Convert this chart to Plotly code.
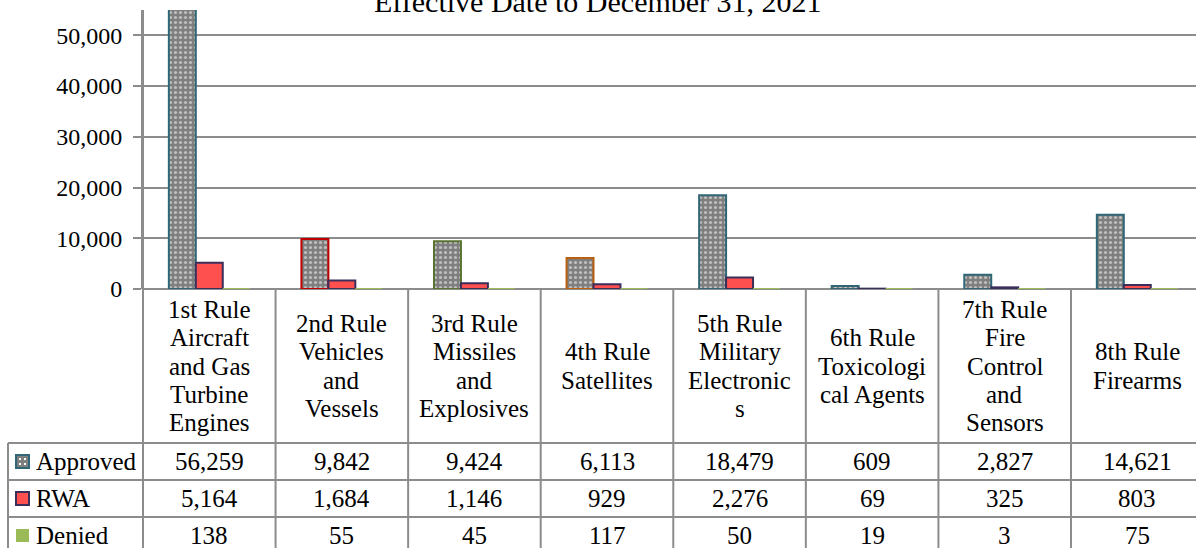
import plotly.graph_objects as go

# ---------------- data ----------------
categories = ["1st Rule", "2nd Rule", "3rd Rule", "4th Rule",
              "5th Rule", "6th Rule", "7th Rule", "8th Rule"]
category_lines = [
    ["1st Rule", "Aircraft", "and Gas", "Turbine", "Engines"],
    ["2nd Rule", "Vehicles", "and", "Vessels"],
    ["3rd Rule", "Missiles", "and", "Explosives"],
    ["4th Rule", "Satellites"],
    ["5th Rule", "Military", "Electronic", "s"],
    ["6th Rule", "Toxicologi", "cal Agents"],
    ["7th Rule", "Fire", "Control", "and", "Sensors"],
    ["8th Rule", "Firearms"],
]
approved = [56259, 9842, 9424, 6113, 18479, 609, 2827, 14621]
rwa = [5164, 1684, 1146, 929, 2276, 69, 325, 803]
denied = [138, 55, 45, 117, 50, 19, 3, 75]
series_names = ["Approved", "RWA", "Denied"]
title_text = "Effective Date to December 31, 2021"

# ---------------- style ----------------
W, H = 1196, 548
L, T, B = 143, 10, 289          # plot-area pixel edges
FONT = "Liberation Serif, Times New Roman, serif"
GRID = "#8C8C8C"
TEAL = "#2F6777"
approved_outline = [TEAL, "#C00000", "#5A7330", "#B8600E", TEAL, TEAL, TEAL, TEAL]
RWA_FILL, RWA_LINE = "#FF5050", "#3B2E5A"
DEN_FILL = "#9BBB59"
TBL_FS = 25

def px(x):
    return (x - L) / (W - L)

def py(y):
    return (B - y) / (B - T)

fig = go.Figure()
fig.add_trace(go.Bar(
    x=categories, y=approved, name=series_names[0],
    marker=dict(color="#7F7F7F",
                line=dict(color=approved_outline, width=2),
                pattern=dict(shape=".", fgcolor="white", size=5, solidity=0.3,
                             fillmode="overlay")),
))
fig.add_trace(go.Bar(
    x=categories, y=rwa, name=series_names[1],
    marker=dict(color=RWA_FILL, line=dict(color=RWA_LINE, width=2)),
))
fig.add_trace(go.Bar(
    x=categories, y=denied, name=series_names[2],
    marker=dict(color=DEN_FILL, line=dict(width=0)),
))

cat_w = 132.57
x_hi = -0.5 + (W - L) / cat_w

fig.update_layout(
    width=W, height=H,
    margin=dict(l=L, r=0, t=T, b=H - B, autoexpand=False),
    paper_bgcolor="white", plot_bgcolor="white",
    barmode="group", bargap=0.39, bargroupgap=0,
    showlegend=False,
    font=dict(family=FONT, size=24, color="black"),
    xaxis=dict(type="category", range=[-0.5, x_hi], showticklabels=False,
               showgrid=False, zeroline=False, showline=False, ticks=""),
    yaxis=dict(range=[0, 55000], dtick=10000, tickformat=",",
               showgrid=True, gridcolor=GRID, gridwidth=2,
               zeroline=True, zerolinecolor=GRID, zerolinewidth=2,
               showline=True, linecolor=GRID, linewidth=2,
               ticks="outside", ticklen=8, tickcolor=GRID, tickwidth=2,
               ticklabelstandoff=6,
               tickfont=dict(family=FONT, size=24, color="black")),
)

shapes = []
annotations = []

# title (partly cut off at the top)
annotations.append(dict(text=title_text, xref="paper", yref="paper",
                        x=px(598), y=py(2), xanchor="center", yanchor="middle",
                        showarrow=False, font=dict(family=FONT, size=30, color="black")))

line_style = dict(color=GRID, width=2)
bottom = py(H + 5)
# vertical line along y-axis through table
shapes.append(dict(type="line", xref="paper", yref="paper", x0=0, x1=0,
                   y0=bottom, y1=1, line=line_style))
# left edge of table legend column
shapes.append(dict(type="line", xref="paper", yref="paper", x0=px(8), x1=px(8),
                   y0=bottom, y1=py(443), line=line_style))
# category dividers
for i in range(len(categories)):
    shapes.append(dict(type="line", xref="x", yref="paper", x0=i + 0.5, x1=i + 0.5,
                       y0=bottom, y1=0, line=line_style))
# horizontal row lines
row_tops = [443, 480, 517]
for yy in row_tops:
    shapes.append(dict(type="line", xref="paper", yref="paper", x0=px(8), x1=1,
                       y0=py(yy), y1=py(yy), line=line_style))

# header labels
header_center = (289 + 443) / 2
line_h = 28.5
for i, lines in enumerate(category_lines):
    n = len(lines)
    for k, t in enumerate(lines):
        yc = header_center + (k - (n - 1) / 2) * line_h
        annotations.append(dict(text=t, xref="x", yref="paper", x=i, y=py(yc),
                                xanchor="center", yanchor="middle", showarrow=False,
                                font=dict(family=FONT, size=TBL_FS, color="black")))

# data rows
row_vals = [approved, rwa, denied]
row_centers = [461.5, 498.5, 535.5]
for vals, yc in zip(row_vals, row_centers):
    for i, v in enumerate(vals):
        annotations.append(dict(text=f"{v:,}", xref="x", yref="paper", x=i, y=py(yc),
                                xanchor="center", yanchor="middle", showarrow=False,
                                font=dict(family=FONT, size=TBL_FS, color="black")))

# legend keys and row names
keys = [
    dict(fill="#7F7F7F", line=TEAL, lw=2),
    dict(fill=RWA_FILL, line=RWA_LINE, lw=2),
    dict(fill=DEN_FILL, line=DEN_FILL, lw=0),
]
for name, key, yc in zip(series_names, keys, row_centers):
    shapes.append(dict(type="rect", xref="paper", yref="paper",
                       x0=px(16), x1=px(29), y0=py(yc - 6.5), y1=py(yc + 6.5),
                       fillcolor=key["fill"], line=dict(color=key["line"], width=key["lw"])))
    annotations.append(dict(text=name, xref="paper", yref="paper", x=px(34), y=py(yc),
                            xanchor="left", yanchor="middle", showarrow=False,
                            font=dict(family=FONT, size=TBL_FS, color="black")))
# white dots inside the approved key
for dx, dy in [(-2.5, -2.5), (2.5, -2.5), (-2.5, 2.5), (2.5, 2.5)]:
    cx, cy = 22.5 + dx, row_centers[0] + dy
    shapes.append(dict(type="rect", xref="paper", yref="paper",
                       x0=px(cx - 1), x1=px(cx + 1), y0=py(cy - 1), y1=py(cy + 1),
                       fillcolor="white", line=dict(width=0)))

fig.update_layout(shapes=shapes, annotations=annotations)
fig.write_html(
    "out.html",
    config={"displayModeBar": False},
    post_script="document.body.style.margin='0';document.body.style.overflow='hidden';",
)
